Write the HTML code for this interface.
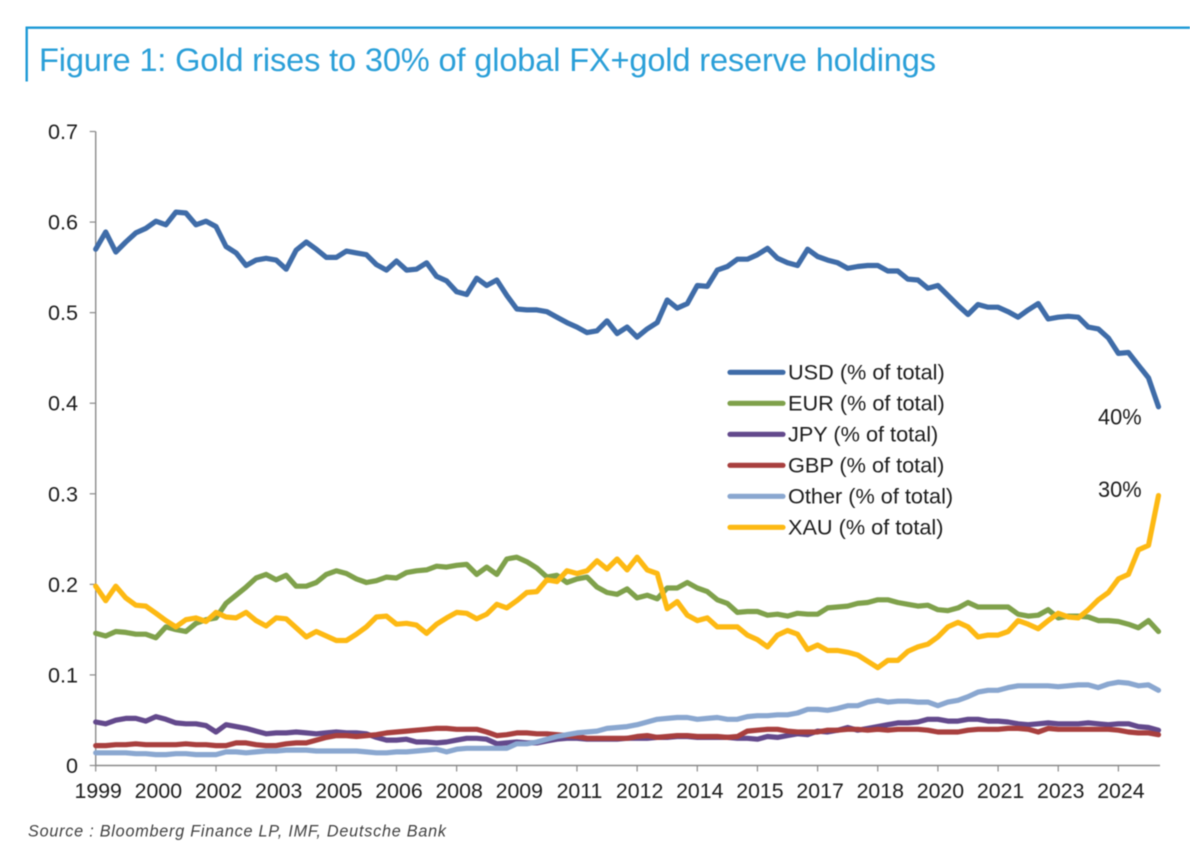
<!DOCTYPE html>
<html lang="en">
<head>
<meta charset="utf-8">
<title>Gold rises to 30% of global FX+gold reserve holdings</title>
<style>
html,body{margin:0;padding:0;background:#fff;width:1190px;height:854px;overflow:hidden}
svg{display:block;filter:blur(0.45px)}
text{font-family:"Liberation Sans",Arial,sans-serif;fill:#1c1c1c}
</style>
</head>
<body>
<svg id="chart" width="1190" height="854" viewBox="0 0 1190 854" xmlns="http://www.w3.org/2000/svg">
  <g>
    <line x1="25.5" y1="27.7" x2="1190" y2="27.7" stroke="#1E9AD6" stroke-width="2.4"/>
    <line x1="26.7" y1="27" x2="26.7" y2="81.5" stroke="#1E9AD6" stroke-width="2.4"/>
  </g>
  <text x="39" y="71" font-size="32.6" style="fill:#2A9FD8" textLength="897" lengthAdjust="spacing">Figure 1: Gold rises to 30% of global FX+gold reserve holdings</text>
  <g id="axes"></g>
  <g id="series"></g>
  <g id="legend"></g>
  <text x="1098" y="424.5" font-size="21.8">40%</text>
  <text x="1098" y="497" font-size="21.8">30%</text>
  <text x="28" y="836.5" font-size="16.2" font-style="italic" style="fill:#3f3f3f" textLength="418" lengthAdjust="spacing">Source : Bloomberg Finance LP, IMF, Deutsche Bank</text>
</svg>
<script>
const xTickLabels = ["1999","2000","2002","2003","2005","2006","2008","2009","2011","2012","2014","2015","2017","2018","2020","2021","2023","2024"];
const yTickLabels = ["0","0.1","0.2","0.3","0.4","0.5","0.6","0.7"];
const yTickValues = [0,0.1,0.2,0.3,0.4,0.5,0.6,0.7];
const periodsPerXTick = 6;

const usd = [
.570,.589,.567,.578,.588,.593,.601,.597,.611,.610,
.597,.601,.595,.573,.566,.552,.558,.560,.558,.548,
.569,.578,.570,.561,.561,.568,.566,.564,.553,.547,
.557,.547,.548,.555,.540,.535,.523,.520,.538,.530,
.536,.519,.504,.503,.503,.501,.495,.489,.484,.478,
.480,.491,.477,.484,.473,.482,.489,.514,.505,.510,
.530,.529,.547,.551,.559,.559,.564,.571,.560,.555,
.552,.570,.562,.558,.555,.549,.551,.552,.552,.546,
.546,.537,.536,.527,.530,.519,.508,.498,.509,.506,
.506,.501,.495,.503,.510,.493,.495,.496,.495,.484,
.482,.472,.455,.456,.442,.428,.396];
const eur = [
.146,.143,.148,.147,.145,.145,.141,.153,.150,.148,
.157,.161,.163,.179,.188,.197,.207,.211,.205,.210,
.198,.198,.202,.211,.215,.212,.206,.202,.204,.208,
.207,.213,.215,.216,.220,.219,.221,.222,.211,.219,
.211,.228,.230,.225,.218,.208,.210,.202,.206,.208,
.197,.191,.189,.195,.185,.188,.184,.196,.196,.202,
.196,.192,.183,.179,.169,.170,.170,.166,.167,.165,
.168,.167,.167,.174,.175,.176,.179,.180,.183,.183,
.180,.178,.176,.177,.172,.171,.174,.180,.175,.175,
.175,.175,.167,.165,.166,.172,.163,.165,.165,.164,
.160,.160,.159,.156,.152,.160,.148];
const jpy = [
.048,.046,.050,.052,.052,.049,.054,.051,.047,.046,
.046,.044,.037,.045,.043,.041,.038,.035,.036,.036,
.037,.036,.035,.036,.037,.036,.036,.035,.031,.028,
.028,.029,.026,.026,.025,.026,.028,.030,.030,.029,
.024,.025,.026,.025,.025,.027,.029,.030,.030,.029,
.029,.029,.029,.030,.030,.030,.031,.031,.032,.032,
.031,.031,.031,.031,.030,.030,.029,.032,.031,.033,
.035,.034,.038,.037,.039,.042,.039,.041,.043,.045,
.047,.047,.048,.051,.051,.049,.049,.051,.051,.049,
.049,.048,.046,.045,.046,.047,.046,.046,.046,.047,
.046,.045,.046,.046,.043,.042,.039];
const gbp = [
.022,.022,.023,.023,.024,.023,.023,.023,.023,.024,
.023,.023,.022,.022,.025,.025,.023,.022,.022,.024,
.025,.025,.028,.031,.033,.033,.032,.033,.034,.036,
.037,.038,.039,.040,.041,.041,.040,.040,.040,.037,
.033,.034,.036,.036,.035,.035,.034,.033,.032,.030,
.030,.030,.030,.030,.032,.033,.031,.032,.033,.033,
.032,.032,.032,.031,.032,.038,.039,.040,.040,.038,
.037,.037,.037,.039,.039,.040,.040,.039,.040,.039,
.040,.040,.040,.039,.037,.037,.037,.039,.040,.040,
.040,.041,.041,.040,.037,.041,.040,.040,.040,.040,
.040,.040,.039,.037,.036,.036,.034];
const other = [
.014,.014,.014,.014,.013,.013,.012,.012,.013,.013,
.012,.012,.012,.015,.015,.014,.015,.016,.016,.017,
.017,.017,.016,.016,.016,.016,.016,.015,.014,.014,
.015,.015,.016,.017,.018,.015,.018,.019,.019,.019,
.019,.019,.024,.024,.026,.029,.032,.034,.036,.037,
.038,.041,.042,.043,.045,.048,.051,.052,.053,.053,
.051,.052,.053,.051,.051,.054,.055,.055,.056,.056,
.058,.062,.062,.061,.063,.066,.066,.070,.072,.070,
.071,.071,.070,.070,.066,.070,.072,.076,.081,.083,
.083,.086,.088,.088,.088,.088,.087,.088,.089,.089,
.086,.090,.092,.091,.088,.089,.083];
const xau = [
.198,.182,.198,.185,.177,.176,.168,.160,.153,.161,
.163,.159,.169,.164,.163,.169,.160,.154,.163,.162,
.152,.142,.148,.143,.138,.138,.145,.153,.164,.165,
.156,.157,.155,.146,.156,.163,.169,.168,.162,.167,
.178,.174,.182,.191,.192,.205,.203,.215,.212,.215,
.226,.217,.228,.216,.230,.216,.212,.173,.181,.166,
.160,.163,.153,.153,.153,.144,.139,.131,.144,.149,
.145,.128,.133,.127,.127,.125,.122,.115,.108,.116,
.116,.126,.131,.134,.142,.153,.158,.153,.142,.144,
.144,.148,.160,.156,.151,.160,.168,.164,.163,.172,
.183,.191,.206,.211,.238,.243,.298];

const seriesNames = ["USD","EUR","JPY","GBP","Other","XAU"];
const seriesValues = [usd,eur,jpy,gbp,other,xau];
const seriesColors = ["#3F6CA8","#7FA14B","#63498C","#A83F3E","#8AA7D0","#FDB913"];

const NS = "http://www.w3.org/2000/svg";
const plot = {left:95.7,right:1160,top:131.5,bottom:765.5};
const yMax = 0.7;
const pointCount = usd.length;
function xAt(i){return plot.left + i*(plot.right-1.5-plot.left)/(pointCount-1);}
function yAt(v){return plot.bottom - (v/yMax)*(plot.bottom-plot.top);}
function make(tag,attrs,parent){
  const el=document.createElementNS(NS,tag);
  for(const k in attrs){el.setAttribute(k,attrs[k]);}
  parent.appendChild(el);
  return el;
}
const axes=document.getElementById("axes");
const axisColor="#8a8a8a";

const yAxis=make("line",{x1:plot.left,y1:plot.top,x2:plot.left,y2:plot.bottom,stroke:axisColor,"stroke-width":1.4},axes);


const xAxis=make("line",{x1:plot.left,y1:plot.bottom,x2:plot.right,y2:plot.bottom,stroke:axisColor,"stroke-width":1.4},axes);



yTickValues.forEach(function(v,i){
  const y=yAt(v);
  const tick=make("line",{x1:plot.left-6,y1:y,x2:plot.left,y2:y,stroke:axisColor,"stroke-width":1.2},axes);
  
  
  const label=make("text",{x:78,y:y+7.5,"text-anchor":"end","font-size":21.6},axes);
  label.textContent=yTickLabels[i];
  
  
});
xTickLabels.forEach(function(t,i){
  const x=xAt(i*periodsPerXTick);
  const tick=make("line",{x1:x,y1:plot.bottom,x2:x,y2:plot.bottom+6,stroke:axisColor,"stroke-width":1.2},axes);
  
  
  const label=make("text",{x:x+2.5,y:798,"text-anchor":"middle","font-size":21.3},axes);
  label.textContent=t;
  
  
});

const seriesGroup=document.getElementById("series");
seriesValues.forEach(function(vals,s){
  const d=vals.map(function(v,i){return (i?"L":"M")+xAt(i).toFixed(1)+" "+yAt(v).toFixed(1);}).join("");
  const path=make("path",{d:d,fill:"none",stroke:seriesColors[s],"stroke-width":5.2,"stroke-linejoin":"round","stroke-linecap":"round"},seriesGroup);
  
  
  path.setAttribute('data-series', seriesNames[s]);
});

const legendGroup=document.getElementById("legend");
const legendTop=372.3, legendStep=31;
seriesNames.forEach(function(n,s){
  const y=legendTop+s*legendStep;
  const swatch=make("line",{x1:730,y1:y,x2:783,y2:y,stroke:seriesColors[s],"stroke-width":5.2,"stroke-linecap":"round"},legendGroup);
  
  
  const label=make("text",{x:788,y:y+7,"font-size":21.7},legendGroup);
  label.textContent=n+" (% of total)";
  
  
});
</script>
</body>
</html>
